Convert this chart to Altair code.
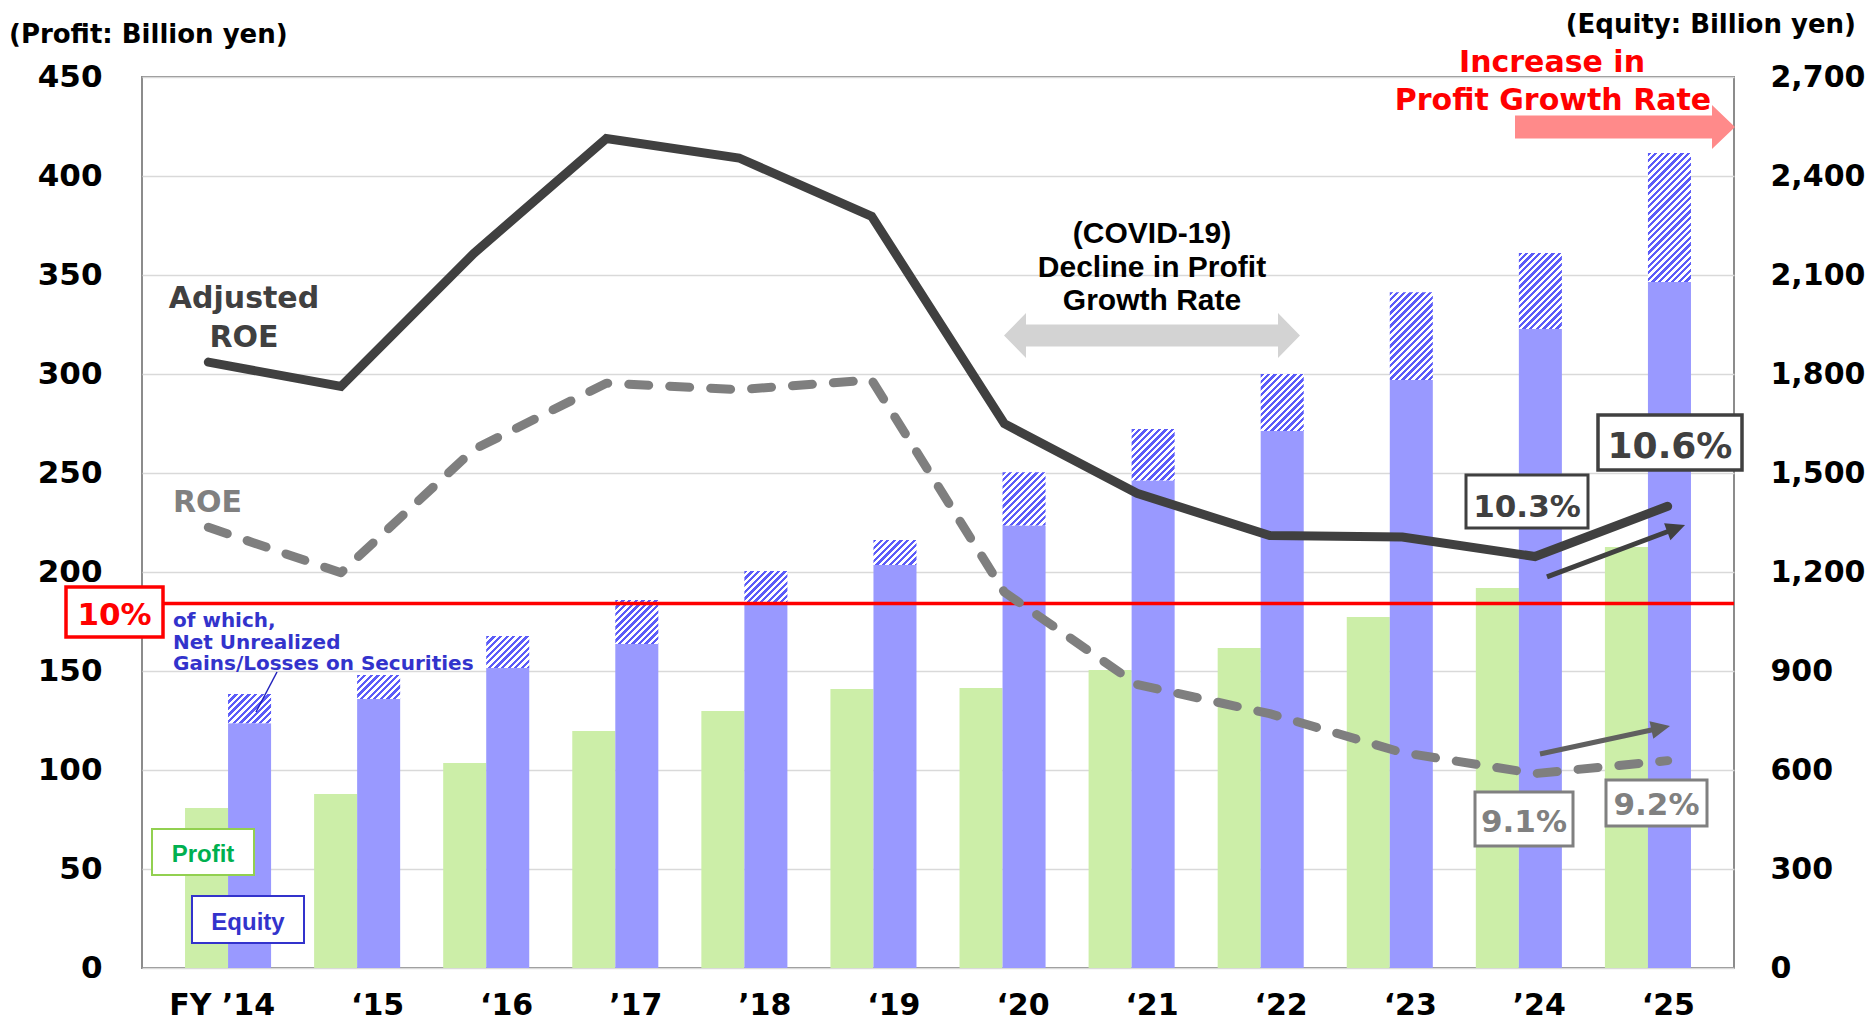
import altair as alt
import pandas as pd

# ---------------- data ----------------
years = ["FY \u201914", "\u201815", "\u201816", "\u201917", "\u201918", "\u201819",
         "\u201820", "\u201821", "\u201822", "\u201823", "\u201924", "\u201825"]
profit = [80.8, 87.9, 103.5, 119.7, 129.8, 140.9, 141.4, 150.5, 161.6, 177.3, 191.9, 212.6]
equity_total = [830, 888, 1006, 1115, 1203, 1297, 1502, 1633, 1800, 2048, 2167, 2470]
unrealized = [88, 73, 97, 133, 103, 76, 161, 156, 173, 266, 231, 391]
adjusted_roe = [11.49, 11.34, 12.16, 12.87, 12.75, 12.39, 11.11, 10.68, 10.42, 10.41, 10.29, 10.60]
roe = [10.47, 10.19, 10.95, 11.36, 11.32, 11.38, 10.07, 9.50, 9.32, 9.08, 8.95, 9.03]
target_roe = [10]
profit_ticks = list(range(0, 451, 50))
equity_ticks = list(range(0, 2701, 300))

df = pd.DataFrame({
    "year": years,
    "profit": profit,
    "equity_total": equity_total,
    "unrealized": unrealized,
    "adj_roe": adjusted_roe,
    "roe": roe,
})
df["equity_base"] = df["equity_total"] - df["unrealized"]
dummy = pd.DataFrame({"a": [0]})

# ---------------- layout ----------------
W, H = 1592, 891
OX, OY = 142, 77           # page position of plot origin
PCT_DOMAIN = [7.75, 13.25]
FONT = "DejaVu Sans"
FONT2 = "Liberation Sans"

def X(p):
    return p - OX

def Y(p):
    return p - OY

xband = alt.Scale(domain=years, paddingInner=1 / 3, paddingOuter=1 / 3)
xoff = alt.Scale(domain=["Profit", "Equity"], paddingInner=0, paddingOuter=0)
xpoint = alt.Scale(type="point", domain=years, padding=0.5)
yprofit = alt.Scale(domain=[0, 450], nice=False, zero=True)
yequity = alt.Scale(domain=[0, 2700], nice=False, zero=True)
ypct = alt.Scale(domain=PCT_DOMAIN, nice=False, zero=False)

layers = []

# profit bars (with left axis + x axis + grid)
layers.append(
    alt.Chart(df).transform_calculate(series="'Profit'").mark_bar(color="#CCEEA8").encode(
        x=alt.X("year:N", sort=years, scale=xband, title=None,
                axis=alt.Axis(labelAngle=0, labelAlign="right", labelOffset=47, labelPadding=22,
                              ticks=False, domain=False, labelFont=FONT, labelFontWeight="bold",
                              labelFontSize=30, labelColor="black", labelOverlap=False,
                              labelBound=False, labelBaseline="top")),
        xOffset=alt.XOffset("series:N", scale=xoff),
        y=alt.Y("profit:Q", scale=yprofit, title=None,
                axis=alt.Axis(orient="left", values=profit_ticks, grid=True, gridColor="#D9D9D9",
                              gridWidth=1.5, ticks=False, domain=False, labelFont=FONT,
                              labelFontWeight="bold", labelFontSize=31, labelColor="black",
                              labelPadding=40, labelAlign="right", labelBaseline="middle")),
    )
)

# equity bars (right axis)
layers.append(
    alt.Chart(df).transform_calculate(series="'Equity'").mark_bar(color="#9999FF").encode(
        x=alt.X("year:N", sort=years, scale=xband, axis=None),
        xOffset=alt.XOffset("series:N", scale=xoff),
        y=alt.Y("equity_base:Q", scale=yequity, title=None,
                axis=alt.Axis(orient="right", values=equity_ticks, format=",d", grid=False,
                              ticks=False, domain=False, labelFont=FONT, labelFontWeight="bold",
                              labelFontSize=30, labelColor="black", labelPadding=36,
                              labelAlign="left", labelBaseline="middle")),
    )
)

# hatched part of equity (net unrealized gains) -- striped gradient per bar
bar_w = W / (12 - 1 / 3 + 2 / 3) * (2 / 3) / 2
px_per_eq = H / 2700.0


def hatch(w, h, period=6.6, duty=0.5, c1="#5C5CF8", c2="#FFFFFF"):
    s = w + h
    c = s / (w * w + h * h)
    stops = []
    k = 0
    while k * period < s:
        a = k * period / s
        b = min((k + duty) * period / s, 1.0)
        e = min((k + 1) * period / s, 1.0)
        stops += [(a, c1), (b, c1), (b, c2), (e, c2)]
        k += 1
    return alt.LinearGradient(
        gradient="linear", x1=0, y1=0, x2=round(w * c, 5), y2=round(h * c, 5),
        stops=[alt.GradientStop(offset=round(o, 5), color=col) for o, col in stops])


for i in range(len(years)):
    h = df.loc[i, "unrealized"] * px_per_eq
    layers.append(
        alt.Chart(df.iloc[[i]]).transform_calculate(series="'Equity'")
        .mark_bar(fill=hatch(bar_w, h))
        .encode(
            x=alt.X("year:N", sort=years, scale=xband, axis=None),
            xOffset=alt.XOffset("series:N", scale=xoff),
            y=alt.Y("equity_total:Q", scale=yequity, axis=None),
            y2="equity_base:Q",
        )
    )

# 10% target line
layers.append(
    alt.Chart(pd.DataFrame({"t": target_roe})).mark_rule(color="#FF0000", strokeWidth=3.5).encode(
        y=alt.Y("t:Q", scale=ypct, axis=None), x=alt.value(0), x2=alt.value(W))
)

# ROE lines
layers.append(
    alt.Chart(df).mark_line(color="#7F7F7F", strokeWidth=9, strokeDash=[20, 21],
                            strokeCap="round", strokeJoin="round").encode(
        x=alt.X("year:N", sort=years, scale=xpoint, axis=None),
        y=alt.Y("roe:Q", scale=ypct, axis=None))
)
layers.append(
    alt.Chart(df).mark_line(color="#404040", strokeWidth=9, strokeCap="round",
                            strokeJoin="miter").encode(
        x=alt.X("year:N", sort=years, scale=xpoint, axis=None),
        y=alt.Y("adj_roe:Q", scale=ypct, axis=None))
)


# ---------------- annotations ----------------
def text(t, xp, yp, size=30, color="black", align="center", font=FONT):
    return alt.Chart(dummy).mark_text(text=t, font=font, fontWeight="bold", fontSize=size,
                                      color=color, align=align, baseline="alphabetic").encode(
        x=alt.value(X(xp)), y=alt.value(Y(yp)))


def box(x1, y1, x2, y2, stroke, sw):
    return alt.Chart(dummy).mark_rect(fill="white", stroke=stroke, strokeWidth=sw).encode(
        x=alt.value(X(x1)), x2=alt.value(X(x2)), y=alt.value(Y(y1)), y2=alt.value(Y(y2)))


def arrow(cx, cy, length, shaft, head_len, head_w, color, angle=0, double=False):
    half = length / 2.0
    hb = 1 - head_len / half
    sw = shaft / 2.0 / half
    hw = head_w / 2.0 / half
    f = lambda v: f"{v:.4f}"
    if double:
        path = (f"M -1 0 L {f(-hb)} {f(-hw)} L {f(-hb)} {f(-sw)} L {f(hb)} {f(-sw)} "
                f"L {f(hb)} {f(-hw)} L 1 0 L {f(hb)} {f(hw)} L {f(hb)} {f(sw)} "
                f"L {f(-hb)} {f(sw)} L {f(-hb)} {f(hw)} Z")
    else:
        path = (f"M -1 {f(-sw)} L {f(hb)} {f(-sw)} L {f(hb)} {f(-hw)} L 1 0 "
                f"L {f(hb)} {f(hw)} L {f(hb)} {f(sw)} L -1 {f(sw)} Z")
    return alt.Chart(dummy).mark_point(shape=path, filled=True, color=color, opacity=1,
                                       size=length * length, angle=angle, strokeWidth=0).encode(
        x=alt.value(X(cx)), y=alt.value(Y(cy)))


layers += [
    text("(Profit: Billion yen)", 9, 43, size=26, align="left"),
    text("(Equity: Billion yen)", 1856, 33, size=26, align="right"),
    text("Increase in", 1552, 72, size=30, color="#FF0000"),
    text("Profit Growth Rate", 1553, 110, size=30, color="#FF0000"),
    arrow(1625, 127, 220, 23, 23, 44, "#FF8A8A"),
    arrow(1152, 335.5, 296, 22, 22, 45, "#D3D3D3", double=True),
    text("(COVID-19)", 1152, 243, size=30, font=FONT2),
    text("Decline in Profit", 1152, 277, size=30, font=FONT2),
    text("Growth Rate", 1152, 310, size=30, font=FONT2),
    text("Adjusted", 244, 308, size=30, color="#404040"),
    text("ROE", 244, 347, size=30, color="#404040"),
    text("ROE", 207.5, 512, size=30, color="#808080"),
    box(66, 587, 163, 637, "#FF0000", 3.5),
    text("10%", 114.5, 625, size=31, color="#FF0000"),
    text("of which,", 173, 627, size=20, color="#3333CC", align="left"),
    text("Net Unrealized", 173, 648.5, size=20, color="#3333CC", align="left"),
    text("Gains/Losses on Securities", 173, 670, size=20, color="#3333CC", align="left"),
    alt.Chart(dummy).mark_rule(color="#2222BB", strokeWidth=1.5).encode(
        x=alt.value(X(277)), y=alt.value(Y(672)), x2=alt.value(X(256)), y2=alt.value(Y(712))),
    box(152, 829, 254, 875, "#92D050", 2),
    text("Profit", 203, 862, size=24, color="#00B050", font=FONT2),
    box(192, 896, 304, 943, "#3333CC", 2),
    text("Equity", 248, 930, size=24, color="#3333CC", font=FONT2),
    arrow(1616, 551, 147.5, 5, 19, 18, "#404040", angle=339.4),
    arrow(1605, 740, 133, 5, 19, 18, "#606060", angle=347.8),
    box(1466, 475, 1588, 528, "#404040", 3),
    text("10.3%", 1527, 517, size=31, color="#404040"),
    box(1598, 415, 1742, 470, "#404040", 3.5),
    text("10.6%", 1670, 458, size=36, color="#404040"),
    box(1475, 792, 1573, 846, "#808080", 3),
    text("9.1%", 1524, 832, size=31, color="#808080"),
    box(1606, 780, 1707, 826, "#808080", 3),
    text("9.2%", 1656.5, 815, size=31, color="#808080"),
]

chart = (
    alt.layer(*layers)
    .resolve_scale(x="independent", y="independent", xOffset="independent")
    .properties(width=W, height=H, autosize=alt.AutoSizeParams(type="none"),
                padding={"left": 134, "top": 69, "right": 132, "bottom": 54},
                background="white")
    .configure_view(stroke="#8C8C8C", strokeWidth=2)
)

chart.save("out.html", embed_options={"renderer": "svg", "actions": False})
